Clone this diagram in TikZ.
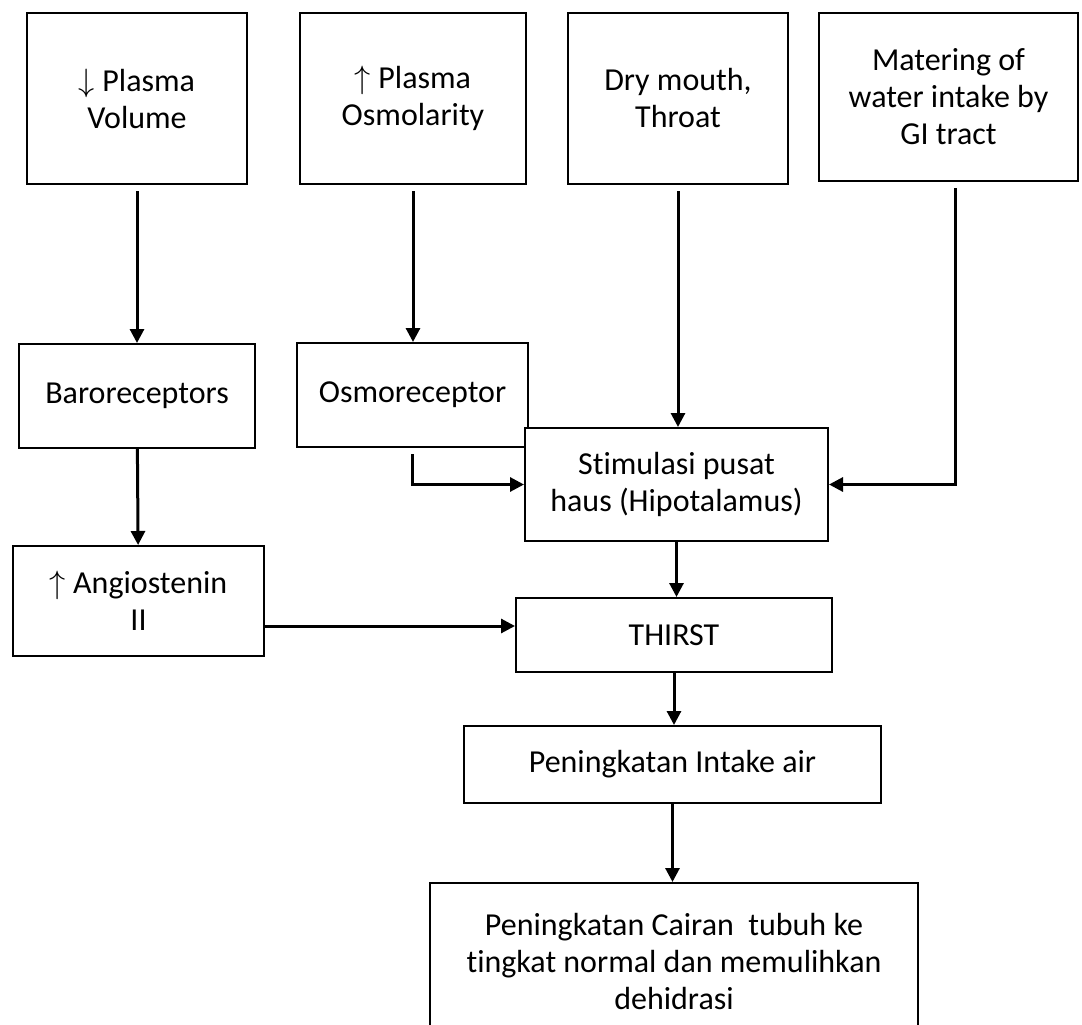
\documentclass[tikz,border=0pt]{standalone}
\usepackage{fontspec}
\setmainfont{Carlito}[Ligatures={NoCommon}]
\usetikzlibrary{arrows.meta}

\newcommand{\dn}{\scalebox{1.3}{$\downarrow$}}
\newcommand{\up}{\scalebox{1.3}{$\uparrow$}}

\begin{document}
\begin{tikzpicture}[x=1pt,y=-1pt,
	every node/.style={draw,line width=2pt,inner sep=0,align=center,
		font=\fontsize{32}{37}\selectfont},
	flow/.style={line width=3pt,-{Triangle[length=14pt,width=14pt]}},
	gap/.style={shorten <=6pt}]
\useasboundingbox (0,0) rectangle (1082,1025);
% causes
\node[minimum width=220pt,minimum height=171pt] (vol) at (137,98.5) {\dn\ Plasma\\Volume};
\node[minimum width=226pt,minimum height=171pt] (osm) at (413,98.5) {\up\ Plasma\\Osmolarity};
\node[minimum width=220pt,minimum height=171pt] (dry) at (678,98.5) {Dry mouth,\\Throat};
\node[minimum width=259pt,minimum height=168pt] (gi) at (948.5,97) {Matering of\\water intake by\\GI tract};
% receptors
\node[minimum width=236pt,minimum height=104pt] (baro) at (137,396) {Baroreceptors};
\node[minimum width=231pt,minimum height=104pt] (osmo) at (412.5,395) {Osmoreceptor};
\node[minimum width=303pt,minimum height=113pt,fill=white] (stim) at (676.5,484.5) {Stimulasi pusat\\haus (Hipotalamus)};
\node[minimum width=251pt,minimum height=110pt] (angio) at (138.5,601) {\up\ Angiostenin\\II};
% result
\node[minimum width=316pt,minimum height=74pt] (thirst) at (674,635) {THIRST};
\node[minimum width=417pt,minimum height=77pt] (intake) at (672.5,764.5) {Peningkatan Intake air};
\node[minimum width=488pt,minimum height=157pt] (cairan) at (674,961.5) {Peningkatan Cairan~ tubuh ke\\tingkat normal dan memulihkan\\dehidrasi};

\draw[flow,gap] (vol) -- (baro);
\draw[flow,gap] (osm.south) -- (osm.south |- osmo.north);
\draw[flow,gap] (dry.south) -- (dry.south |- stim.north);
\draw[flow,gap] ([xshift=6.5pt]gi.south) |- (stim.east);
\draw[flow,gap] (osmo.south) |- (stim.west);
\draw[flow] (baro) -- (angio);
\draw[flow] ([yshift=-25pt]angio.east) -- ([yshift=-25pt]angio.east -| thirst.west);
\draw[flow] (stim.south) -- (stim.south |- thirst.north);
\draw[flow] (thirst.south) -- (thirst.south |- intake.north);
\draw[flow] (intake.south) -- (intake.south |- cairan.north);
\end{tikzpicture}
\end{document}
